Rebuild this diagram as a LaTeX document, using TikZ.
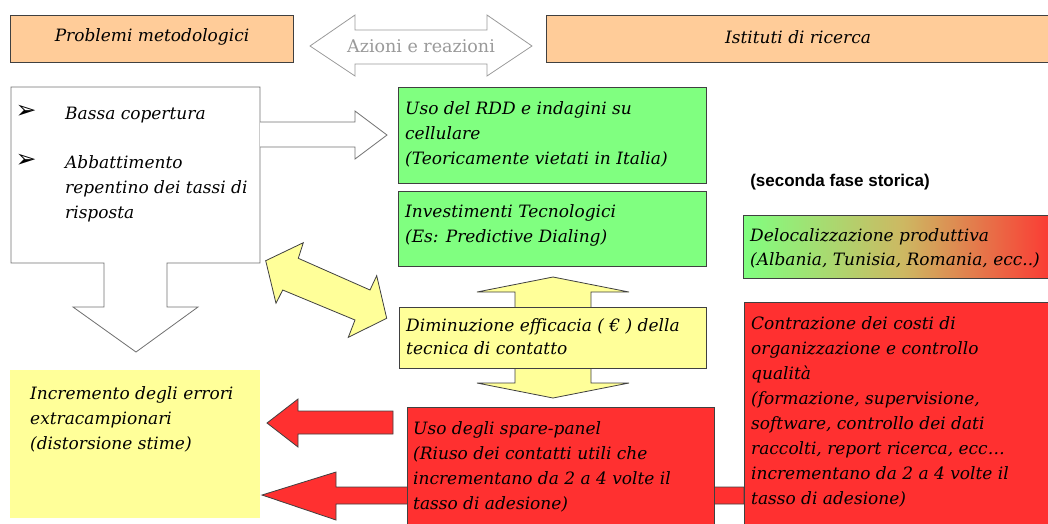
\documentclass[tikz,border=0pt]{standalone}
\usepackage{fontspec}
\setmainfont{DejaVu Serif}
\newfontfamily\symf{DejaVu Sans}
\newfontfamily\arialf{Liberation Sans}
\definecolor{peach}{HTML}{FFCC99}
\definecolor{grn}{HTML}{80FF80}
\definecolor{ylw}{HTML}{FFFF99}
\definecolor{redc}{HTML}{FF3030}
\definecolor{midc}{HTML}{CDB862}
\definecolor{bord}{HTML}{404040}
\definecolor{wgray}{HTML}{707070}
\definecolor{lgray}{HTML}{9A9A9A}
\newcommand\fl{\rule{0pt}{18pt}}
\begin{document}
\begin{tikzpicture}[x=1pt,y=-1pt,
  bx/.style={draw=bord, line width=0.9pt, inner sep=0pt, outer sep=0pt, anchor=north west},
  tx/.style={anchor=north west, inner sep=0pt, align=left, font=\fontsize{17}{25}\selectfont\itshape},
  wa/.style={draw=wgray, fill=white, line width=0.8pt, line join=miter},
  la/.style={draw=lgray, fill=white, line width=0.8pt, line join=miter},
  ya/.style={draw=bord, fill=ylw, line width=0.8pt, line join=miter},
  ra/.style={draw=bord, fill=redc, line width=0.8pt, line join=miter},
  bul/.style={inner sep=0pt, font=\symf\fontsize{25}{25}\selectfont}
]
\useasboundingbox (0,0) rectangle (1048,523);
\clip (0,0) rectangle (1048,523);

% top bar
\node[bx, fill=peach, minimum width=283pt, minimum height=47pt] (pm) at (10,15) {};
\node[inner sep=0pt, font=\fontsize{17}{20}\selectfont\itshape] (pmt) at (152,37) {Problemi metodologici};
\node[bx, fill=peach, minimum width=520pt, minimum height=47pt] (ir) at (546,15) {};
\node[inner sep=0pt, font=\fontsize{17}{20}\selectfont\itshape] (irt) at (798,37) {Istituti di ricerca};
\draw[la] (310,46) -- (355,15) -- (355,30) -- (487,30) -- (487,15) -- (532,46) -- (487,76) -- (487,64) -- (355,64) -- (355,76) -- cycle;
\node[inner sep=0pt, text=lgray, font=\fontsize{17.5}{20}\selectfont] (az) at (421,46) {Azioni e reazioni};

% left box with down arrow
\draw[wa] (104,263) -- (11,263) -- (11,87) -- (260,87) -- (260,263) -- (167,263) -- (167,307) -- (198,307) -- (136,352) -- (73,307) -- (104,307) -- cycle;
\node[bul] (b1) at (26,112) {➢};
\node[bul] (b2) at (26,161) {➢};
\node[tx] (l1) at (65,101) {\fl Bassa copertura};
\node[tx] (l2) at (65,150) {\fl Abbattimento\\repentino dei tassi di\\risposta};

% right white arrow
\draw[wa] (260,122) -- (355,122) -- (355,111) -- (387,135) -- (355,159) -- (355,147) -- (260,147);

% green boxes
\node[bx, fill=grn, minimum width=308pt, minimum height=96pt] (g1) at (398,87) {};
\node[tx] (g1t) at (405,96) {\fl Uso del RDD e indagini su\\cellulare\\(Teoricamente vietati in Italia)};
\node[bx, fill=grn, minimum width=308pt, minimum height=75pt] (g2) at (398,191) {};
\node[tx] (g2t) at (405,199) {\fl Investimenti Tecnologici\\(Es: Predictive Dialing)};

% seconda fase
\node[inner sep=0pt, font=\arialf\bfseries\fontsize{17}{20}\selectfont] (sf) at (840,182) {(seconda fase storica)};

% gradient box
\node[bx, left color=grn, right color=redc, middle color=midc, minimum width=320pt, minimum height=63pt] (dl) at (743,215) {};
\node[tx, font=\fontsize{17}{24}\selectfont\itshape] (dlt) at (750,223) {\fl Delocalizzazione produttiva\\(Albania, Tunisia, Romania, ecc..)};

% yellow diagonal double arrow
\draw[ya] (265.7,260.7) -- (303.3,242.7) -- (298.3,258.3) -- (370,290) -- (376.7,275.7) -- (386.7,318.3) -- (348.3,337.3) -- (355,320) -- (282.7,290) -- (276,303.3) -- cycle;

% up-down arrow with box
\draw[ya] (553,277) -- (629,292) -- (591,292) -- (591,383) -- (629,383) -- (553,398) -- (477,383) -- (515,383) -- (515,292) -- (477,292) -- cycle;
\node[bx, fill=ylw, minimum width=307pt, minimum height=61pt] (dm) at (399,307) {};
\node[tx, font=\fontsize{17}{23}\selectfont\itshape] (dmt) at (406,313) {\fl Diminuzione efficacia ( € ) della\\tecnica di contatto};

% incremento box
\node[inner sep=0pt, outer sep=0pt, anchor=north west, fill=ylw, minimum width=250pt, minimum height=148pt] (ic) at (10,370) {};
\node[tx] (ict) at (30,381) {\fl Incremento degli errori\\extracampionari\\(distorsione stime)};

% red arrows
\draw[ra] (744,487) -- (336,487) -- (336,472) -- (262,495) -- (336,520) -- (336,504) -- (744,504) -- cycle;
\draw[ra] (393,411) -- (298,411) -- (298,399) -- (267,423) -- (298,447) -- (298,434) -- (393,434) -- cycle;

% red boxes
\node[bx, fill=redc, minimum width=307pt, minimum height=130pt] (sp) at (407,407) {};
\node[tx] (spt) at (413,416) {\fl Uso degli spare-panel\\(Riuso dei contatti utili che\\incrementano da 2 a 4 volte il\\tasso di adesione)};
\node[bx, fill=redc, minimum width=320pt, minimum height=240pt] (ct) at (744,302) {};
\node[tx] (ctt) at (751,311) {\fl Contrazione dei costi di\\organizzazione e controllo\\qualità\\(formazione, supervisione,\\software, controllo dei dati\\raccolti, report ricerca, ecc…\\incrementano da 2 a 4 volte il\\tasso di adesione)};
\end{tikzpicture}
\end{document}
